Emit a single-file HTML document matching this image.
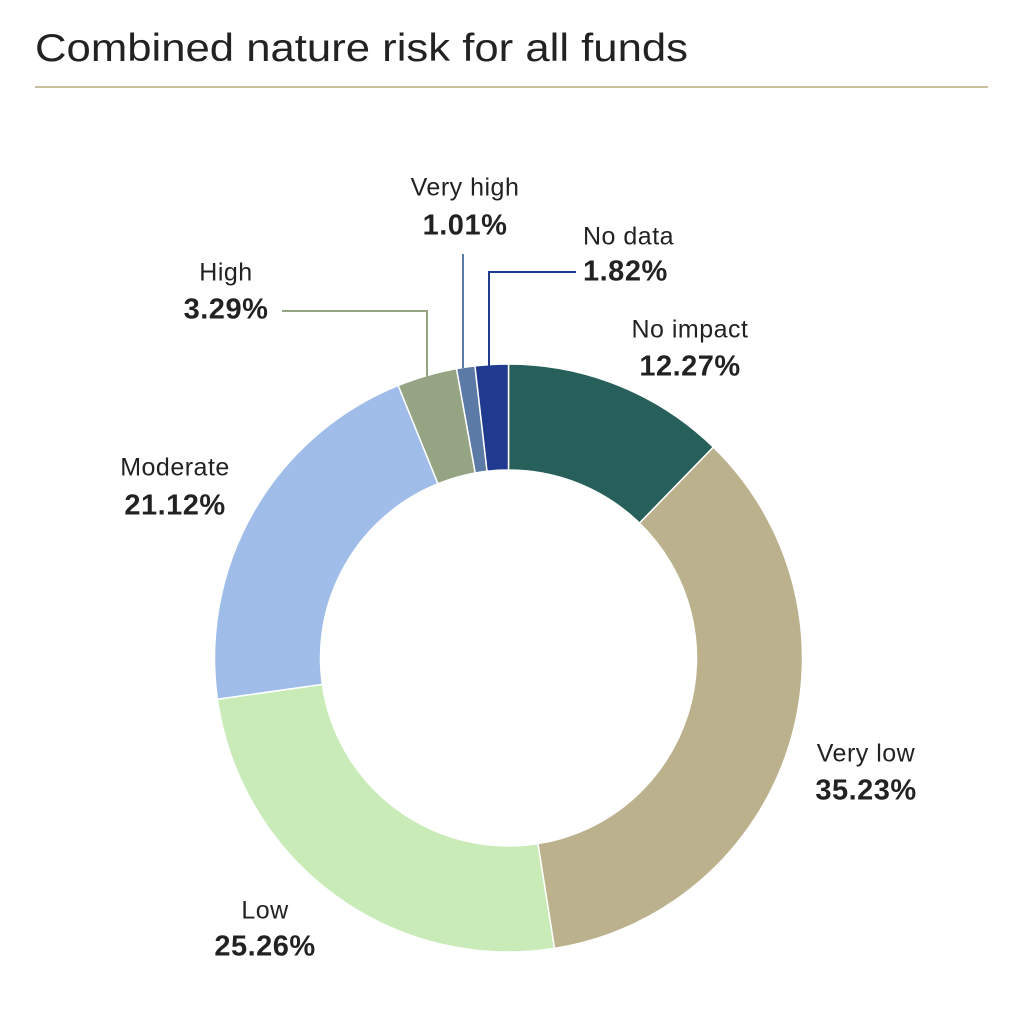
<!DOCTYPE html>
<html><head><meta charset="utf-8">
<style>
html,body{margin:0;padding:0;background:#fff;}
body{width:1024px;height:1004px;overflow:hidden;font-family:"Liberation Sans",sans-serif;}
</style></head>
<body>
<svg id="s" width="1024" height="1004" xmlns="http://www.w3.org/2000/svg" font-family="Liberation Sans, sans-serif">
<text x="35" y="61" font-size="39" fill="#222" textLength="653" lengthAdjust="spacingAndGlyphs">Combined nature risk for all funds</text>
<line x1="35" y1="87" x2="988" y2="87" stroke="#c9c19d" stroke-width="2"/>
<g id="pie"></g>
<polyline points="282,311 427,311 427,386" fill="none" stroke="#95a583" stroke-width="2"/>
<line x1="463" y1="254" x2="463" y2="368" stroke="#5b7aa6" stroke-width="2"/>
<polyline points="576,272 489,272 489,367" fill="none" stroke="#1f3a8f" stroke-width="2"/>
<g font-size="25" fill="#222" text-anchor="middle" dominant-baseline="middle" letter-spacing="0.5">
<text x="465" y="189">Very high</text><text x="465" y="227" font-weight="bold" font-size="29">1.01%</text>
<text x="583" y="238" text-anchor="start">No data</text><text x="583" y="273" text-anchor="start" font-weight="bold" font-size="29">1.82%</text>
<text x="226" y="274">High</text><text x="226" y="311" font-weight="bold" font-size="29">3.29%</text>
<text x="690" y="331">No impact</text><text x="690" y="368" font-weight="bold" font-size="29">12.27%</text>
<text x="175" y="469">Moderate</text><text x="175" y="507" font-weight="bold" font-size="29">21.12%</text>
<text x="866" y="755">Very low</text><text x="866" y="792" font-weight="bold" font-size="29">35.23%</text>
<text x="265" y="912">Low</text><text x="265" y="948" font-weight="bold" font-size="29">25.26%</text>
</g>
</svg>
<script>
var d=[[12.27,"#27605a"],[35.23,"#bbb18c"],[25.26,"#c8ebb8"],[21.12,"#9fbde8"],[3.29,"#95a583"],[1.01,"#5b7aa6"],[1.82,"#1f3a8f"]];
var cx=508.5,cy=658,R=294,r=188,a=0,h="";
function p(rad,ang){return (cx+rad*Math.sin(ang)).toFixed(2)+","+(cy-rad*Math.cos(ang)).toFixed(2);}
d.forEach(function(x){var a0=a*Math.PI/50,a1=(a+x[0])*Math.PI/50,l=x[0]>50?1:0;
h+='<path d="M'+p(R,a0)+' A'+R+','+R+' 0 '+l+' 1 '+p(R,a1)+' L'+p(r,a1)+' A'+r+','+r+' 0 '+l+' 0 '+p(r,a0)+' Z" fill="'+x[1]+'" stroke="#fff" stroke-width="1.5"/>';a+=x[0];});
document.getElementById("pie").innerHTML=h;
</script>
</body></html>
